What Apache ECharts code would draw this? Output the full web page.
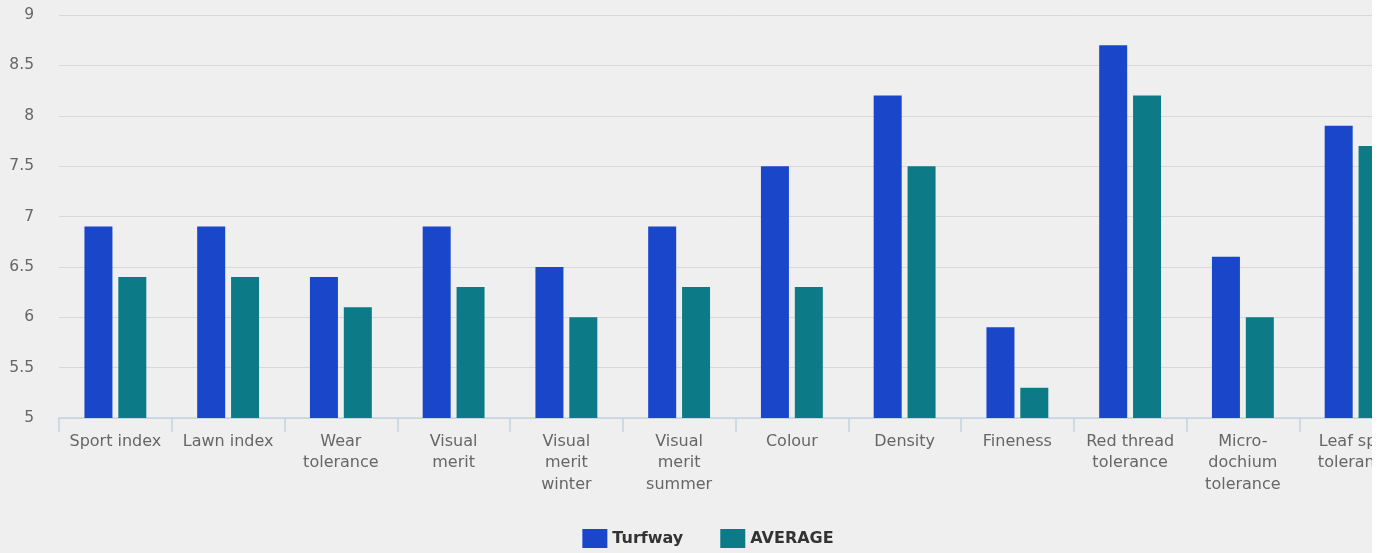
<!DOCTYPE html>
<html><head><meta charset="utf-8">
<script src="https://cdn.jsdelivr.net/npm/echarts@6/dist/echarts.min.js"></script>
<style>
html,body{margin:0;padding:0;background:#ffffff;}
#wrap{width:1372px;height:553px;overflow:hidden;background:#efefef;}
#chart{width:1416px;height:553px;}
</style></head>
<body><div id="wrap"><div id="chart"></div></div>
<script>
const categories = ["Sport index","Lawn index","Wear\ntolerance","Visual\nmerit","Visual\nmerit\nwinter","Visual\nmerit\nsummer","Colour","Density","Fineness","Red thread\ntolerance","Micro-\ndochium\ntolerance","Leaf spot\ntolerance"];
const turfway = [6.9,6.9,6.4,6.9,6.5,6.9,7.5,8.2,5.9,8.7,6.6,7.9];
const average = [6.4,6.4,6.1,6.3,6.0,6.3,6.3,7.5,5.3,8.2,6.0,7.7];
const chart = echarts.init(document.getElementById('chart'));
const font = "DejaVu Sans";
chart.setOption({
  backgroundColor: '#efefef',
  animation: false,
  grid: {left: 59, right: 4, top: 15, bottom: 135, containLabel: false},
  legend: {
    bottom: 0, left: 'center', itemWidth: 25, itemHeight: 19, itemGap: 37,
    icon: 'rect',
    textStyle: {fontFamily: font, fontSize: 16, fontWeight: 'bold', color: '#333'},
    data: ['Turfway','AVERAGE']
  },
  xAxis: {
    type: 'category', data: categories,
    axisLine: {lineStyle: {color: '#c4d3e3', width: 1.5}},
    axisTick: {show: true, length: 14, lineStyle: {color: '#c4d3e3', width: 1.5}},
    axisLabel: {interval: 0, margin: 13, fontFamily: font, fontSize: 16, color: '#666', lineHeight: 21.5}
  },
  yAxis: {
    type: 'value', min: 5, max: 9, interval: 0.5,
    axisLine: {show: false}, axisTick: {show: false},
    splitLine: {lineStyle: {color: '#d8d8d8', width: 1}},
    axisLabel: {margin: 25, fontFamily: font, fontSize: 15.5, color: '#666'}
  },
  series: [
    {name: 'Turfway', type: 'bar', data: turfway, barWidth: 28, barGap: '21%', itemStyle: {color: '#1a47c9'}},
    {name: 'AVERAGE', type: 'bar', data: average, barWidth: 28, itemStyle: {color: '#0c7b87'}}
  ]
});
</script></body></html>
